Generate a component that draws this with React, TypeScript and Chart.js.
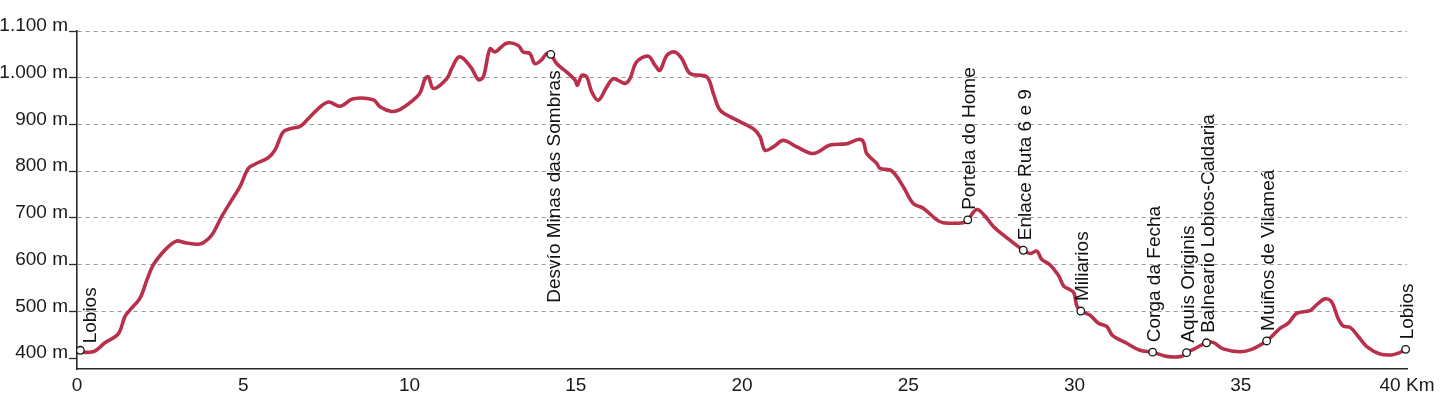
import React, { useEffect, useRef } from "react";
import { Chart, registerables } from "chart.js";

Chart.register(...registerables);

// Elevation profile: distance (km) and altitude (m)
const profileKm = [
  0.10, 0.18, 0.48, 0.63, 0.84, 1.24, 1.44, 1.59, 1.89, 2.10, 2.29, 2.55, 2.80, 3.00, 3.25, 3.65, 3.80, 4.05, 4.35, 4.65,
  4.90, 5.15, 5.35, 5.75, 5.95, 6.20, 6.41, 6.71, 6.91, 7.21, 7.56, 7.91, 8.31, 8.91, 9.11, 9.46, 9.71, 10.11, 10.32, 10.47,
  10.57, 10.72, 11.12, 11.27, 11.47, 11.62, 11.87, 12.07, 12.22, 12.42, 12.57, 12.92, 13.27, 13.42, 13.62, 13.77, 13.98, 14.13, 14.25, 14.43,
  14.73, 14.98, 15.05, 15.18, 15.33, 15.48, 15.68, 15.93, 16.13, 16.48, 16.63, 16.83, 17.18, 17.38, 17.53, 17.74, 17.98, 18.19, 18.44, 18.94,
  19.14, 19.34, 19.74, 20.34, 20.54, 20.69, 20.94, 21.24, 21.65, 22.14, 22.65, 23.15, 23.50, 23.65, 23.75, 24.05, 24.15, 24.50, 24.85, 25.15,
  25.45, 25.86, 26.05, 26.66, 26.79, 27.06, 27.31, 27.56, 27.96, 28.46, 28.66, 28.87, 29.01, 29.26, 29.51, 29.68, 29.83, 29.98, 30.07, 30.19,
  30.47, 30.72, 30.97, 31.14, 31.57, 31.97, 32.35, 32.77, 33.22, 33.37, 33.57, 33.97, 34.17, 34.47, 34.98, 35.33, 35.78, 35.98, 36.18, 36.43,
  36.68, 37.08, 37.28, 37.53, 37.73, 37.93, 38.08, 38.29, 38.54, 38.79, 39.19, 39.54, 39.74, 39.96,
];
const profileElev = [
  417, 413, 414, 420, 433, 452, 489, 503, 528, 567, 599, 624, 642, 651, 647, 644, 647, 663, 703, 738,
  767, 806, 815, 829, 845, 884, 891, 896, 909, 931, 948, 939, 955, 953, 938, 928, 932, 952, 968, 998,
  1002, 977, 998, 1020, 1044, 1041, 1020, 996, 1002, 1062, 1055, 1074, 1069, 1055, 1052, 1030, 1039, 1052, 1050, 1030,
  1012, 995, 984, 1005, 1002, 970, 952, 980, 998, 988, 998, 1034, 1046, 1027, 1016, 1048, 1055, 1041, 1009, 1002,
  966, 931, 913, 891, 874, 845, 852, 866, 852, 838, 856, 859, 868, 863, 838, 817, 806, 801, 767, 731,
  721, 696, 690, 690, 696, 718, 704, 682, 658, 631, 624, 629, 612, 600, 578, 554, 548, 540, 512, 501,
  492, 475, 468, 449, 432, 417, 413, 404, 404, 412, 419, 433, 434, 420, 414, 419, 437, 450, 464, 475,
  496, 502, 514, 527, 521, 485, 469, 466, 446, 425, 409, 407, 411, 419,
];

// Waypoints
const waypointNames = [
  "Lobios", "Desvío Minas das Sombras", "Portela do Home", "Enlace Ruta 6 e 9", "Miliarios",
  "Corga da Fecha", "Aquis Originis", "Balneario Lobios-Caldaria", "Muiños de Vilameá", "Lobios",
];
const waypointKm = [0.10, 14.25, 26.79, 28.46, 30.19, 32.35, 33.37, 33.97, 35.78, 39.96];
const waypointElev = [417, 1050, 696, 631, 501, 413, 412, 433, 437, 419];

// Axis ticks
const xTicks = [0, 5, 10, 15, 20, 25, 30, 35, 40];
const yTicks = [400, 500, 600, 700, 800, 900, 1000, 1100];

const FONT = "'Liberation Sans', Arial, Helvetica, sans-serif";

const fmtElev = (v: number) =>
  v >= 1000 ? `${Math.floor(v / 1000)}.${String(v % 1000).padStart(3, "0")} m` : `${v} m`;

const waypointLabelPlugin = {
  id: "waypointLabels",
  afterDatasetsDraw(chart: any) {
    const { ctx, scales } = chart;
    const xs = scales.x;
    const ys = scales.y;
    ctx.save();
    ctx.font = `19px ${FONT}`;
    ctx.fillStyle = "#111";
    ctx.textBaseline = "alphabetic";
    waypointNames.forEach((name, i) => {
      const px = xs.getPixelForValue(waypointKm[i]);
      const py = ys.getPixelForValue(waypointElev[i]);
      const below = i === 1;
      const dx = i === 0 ? 16 : below ? 9 : 7.5;
      ctx.save();
      if (below) {
        ctx.translate(px + dx, py + 16);
        ctx.rotate(-Math.PI / 2);
        ctx.textAlign = "right";
      } else {
        ctx.translate(px + dx, py - (i === 0 ? 7 : 10));
        ctx.rotate(-Math.PI / 2);
        ctx.textAlign = "left";
      }
      ctx.fillText(name, 0, 0);
      ctx.restore();
    });
    ctx.restore();
  },
};

export default function App() {
  const canvasRef = useRef<HTMLCanvasElement | null>(null);

  useEffect(() => {
    document.body.style.margin = "0";
    const canvas = canvasRef.current;
    if (!canvas) return;
    const chart = new Chart(canvas, {
      type: "line",
      data: {
        datasets: [
          {
            label: "waypoints",
            data: waypointKm.map((x, i) => ({ x, y: waypointElev[i] })),
            showLine: false,
            pointRadius: 3.8,
            pointBackgroundColor: "#ffffff",
            pointBorderColor: "#111111",
            pointBorderWidth: 1.3,
            clip: false,
            order: 0,
          },
          {
            label: "profile",
            data: profileKm.map((x, i) => ({ x, y: profileElev[i] })),
            borderColor: "#b8304a",
            borderWidth: 3.6,
            pointRadius: 0,
            tension: 0.35,
            fill: false,
            clip: false,
            order: 1,
          },
        ],
      },
      options: {
        animation: false,
        responsive: false,
        maintainAspectRatio: false,
        layout: { padding: { top: 31, right: 33, left: 0, bottom: 0 } },
        plugins: {
          legend: { display: false },
          tooltip: { enabled: false },
        },
        scales: {
          x: {
            type: "linear",
            min: 0,
            max: 40,
            afterBuildTicks: (axis: any) => {
              axis.ticks = xTicks.map((v) => ({ value: v }));
            },
            afterFit: (axis: any) => {
              axis.height = 26;
            },
            grid: { display: false, drawTicks: false },
            border: { display: true, color: "#2a2a2a", width: 1.6 },
            ticks: {
              padding: 5,
              maxRotation: 0,
              autoSkip: false,
              color: "#1a1a1a",
              font: { family: FONT, size: 19 },
              callback: (v: any) => (v === 40 ? "40 Km" : String(v)),
            },
          },
          y: {
            type: "linear",
            min: 377,
            max: 1100,
            afterBuildTicks: (axis: any) => {
              axis.ticks = yTicks.map((v) => ({ value: v }));
            },
            afterFit: (axis: any) => {
              axis.width = 77;
            },
            grid: {
              color: (c: any) => (c.tick && c.tick.value === 400 ? "rgba(0,0,0,0)" : "#989898"),
              lineWidth: 1,
              drawTicks: true,
              tickLength: 8,
              tickColor: "#2a2a2a",
              tickWidth: 1.3,
              tickBorderDash: [],
            },
            border: { display: true, color: "#2a2a2a", width: 1.6, dash: [4, 4] },
            ticks: {
              padding: 1,
              labelOffset: -5,
              autoSkip: false,
              color: "#1a1a1a",
              font: { family: FONT, size: 19 },
              callback: (v: any) => fmtElev(Number(v)),
            },
          },
        },
      },
      plugins: [waypointLabelPlugin],
    } as any);
    return () => chart.destroy();
  }, []);

  return (
    <div style={{ width: 1440, height: 395, background: "#ffffff" }}>
      <canvas ref={canvasRef} width={1440} height={395} style={{ display: "block" }} />
    </div>
  );
}
